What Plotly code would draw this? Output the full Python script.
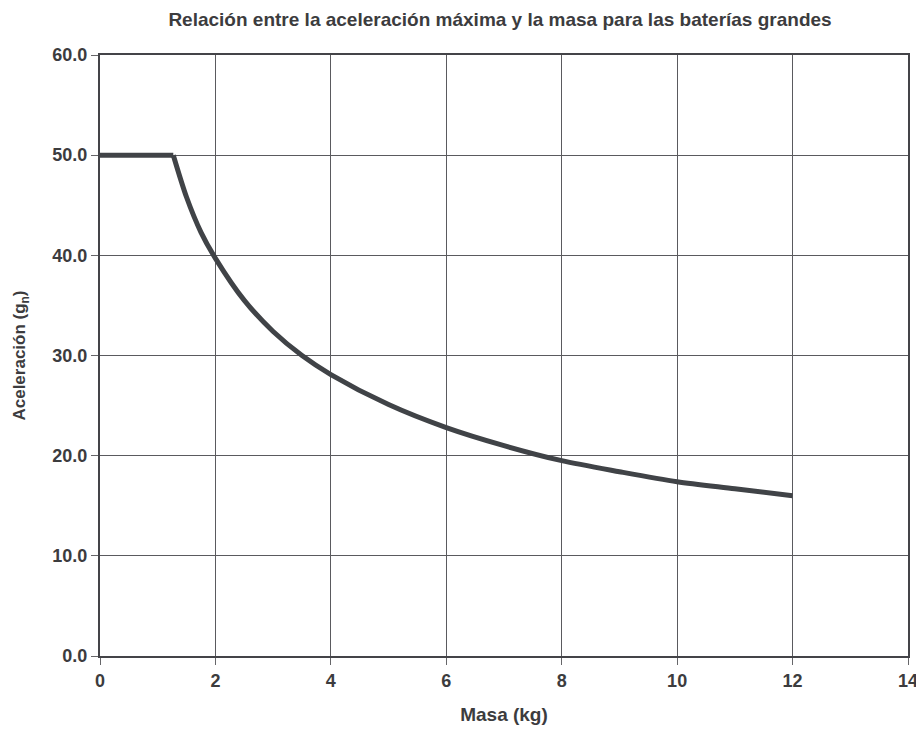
import plotly.graph_objects as go

# values
flat_masa = [0, 1.27]
flat_acel = [50.0, 50.0]

masa = [1.27, 1.5, 1.75, 2, 2.5, 3, 3.5, 4, 5, 6, 7, 8, 9, 10, 11, 12]
aceleracion = [50.0, 45.8, 42.3, 39.7, 35.5, 32.4, 30.0, 28.1, 25.1,
               22.8, 21.0, 19.5, 18.4, 17.4, 16.7, 16.0]

x_ticks = [0, 2, 4, 6, 8, 10, 12, 14]
y_ticks = [0, 10, 20, 30, 40, 50, 60]

txt = '#3c3c3e'
font_main = 'Liberation Sans, Arial, sans-serif'
line_style = dict(color='#404347', width=5)

fig = go.Figure()
fig.add_trace(go.Scatter(x=flat_masa, y=flat_acel, mode='lines',
                         line=line_style, showlegend=False))
fig.add_trace(go.Scatter(x=masa, y=aceleracion, mode='lines',
                         line=dict(**line_style, shape='spline', smoothing=0.8),
                         showlegend=False))

# the page body adds an 8px offset, margins compensate for it
fig.update_layout(
    width=924, height=729,
    paper_bgcolor='white', plot_bgcolor='white',
    margin=dict(l=92, r=24, t=47, b=81),
    title=dict(
        text='Relación entre la aceleración máxima y la masa para las baterías grandes',
        x=0.5325, xanchor='center', xref='container',
        y=0.985, yanchor='middle', yref='container',
        font=dict(family=font_main, size=19, color=txt, weight='bold')
    ),
    font=dict(family=font_main, color=txt)
)

fig.update_xaxes(
    range=[0, 14], tickvals=x_ticks, automargin=False,
    showgrid=True, gridcolor='#5a5a5e', gridwidth=1,
    showline=True, linecolor='#444448', linewidth=2, mirror=True,
    ticks='outside', ticklen=7, tickcolor='#666669',
    tickfont=dict(family=font_main, size=18, color=txt, weight='bold'),
    title=dict(text='Masa (kg)', standoff=18,
               font=dict(family=font_main, size=19, color=txt, weight='bold')),
    zeroline=False
)
fig.update_yaxes(
    range=[0, 60], tickvals=y_ticks, tickformat='.1f', automargin=False,
    showgrid=True, gridcolor='#5a5a5e', gridwidth=1,
    showline=True, linecolor='#444448', linewidth=2, mirror=True,
    ticks='outside', ticklen=7, tickcolor='#666669',
    tickfont=dict(family=font_main, size=18, color=txt, weight='bold'),
    title=dict(text='Aceleración (g<sub>n</sub>)', standoff=22,
               font=dict(family=font_main, size=17, color=txt, weight='bold')),
    zeroline=False
)

fig.write_html('out.html')
